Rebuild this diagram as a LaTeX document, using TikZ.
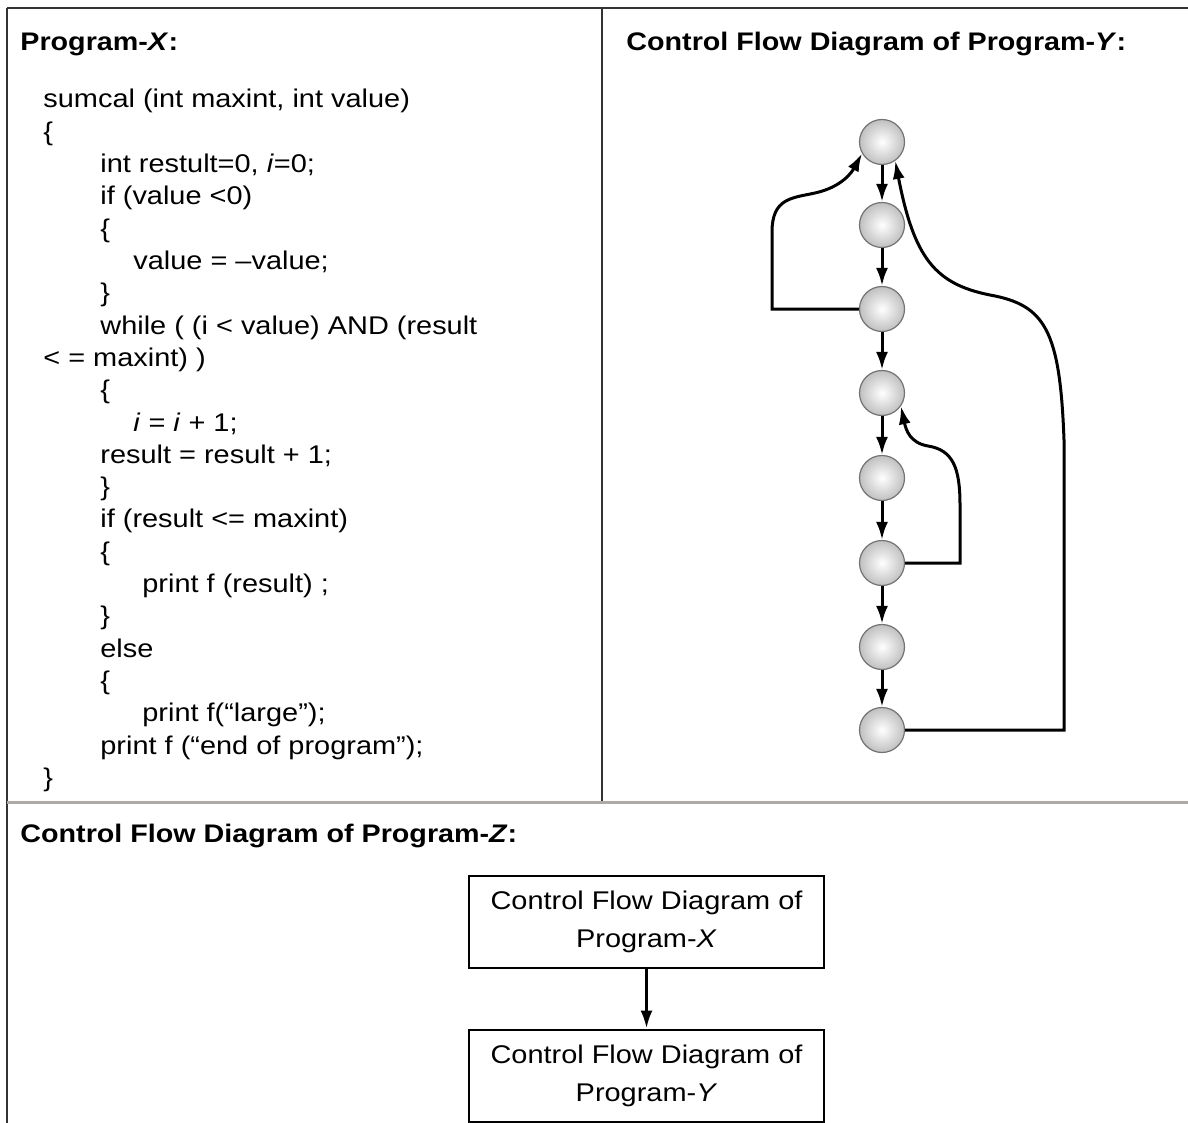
\documentclass[tikz,border=0pt]{standalone}
\usepackage{fontspec}
\setmainfont{Liberation Sans}[FakeStretch=1.13]
\usetikzlibrary{arrows.meta}
\definecolor{rulegray}{RGB}{176,170,166}
\definecolor{ballgray}{RGB}{192,192,192}

\begin{document}
\begin{tikzpicture}[x=0.5pt, y=-0.5pt,
  panel/.style={line width=1pt, black!80},
  code/.style={anchor=base west, inner sep=0pt, font=\fontsize{12.8}{16}\selectfont},
  head/.style={anchor=base west, inner sep=0pt, font=\bfseries\fontsize{12.7}{16}\selectfont},
  vertex/.style={circle, draw=gray!90!black, line width=0.6pt, minimum size=22.5pt, inner sep=0pt,
    inner color=white, outer color=ballgray},
  flow/.style={line width=1.5pt, -{Latex[length=9pt,width=6pt]}},
  back/.style={line width=1.5pt, -{Latex[length=9pt,width=6pt]}},
  cfdbox/.style={draw, line width=1pt, minimum width=177.5pt, minimum height=46pt,
    align=center, font=\fontsize{12.8}{19}\selectfont}]
  \useasboundingbox (0,0) rectangle (1188,1123);

  % table rules
  \draw[panel] (7,8) -- (1188,8);
  \draw[panel] (7,8) -- (7,1123);
  \draw[panel] (602,8) -- (602,802);
  \draw[rulegray, line width=1.5pt] (7,802) -- (1188,802);

  % headings
  \node[head] (hx) at (20,51) {Program-\textit{X}:};
  \node[head] (hy) at (626,51) {Control Flow Diagram of Program-\textit{Y}:};
  \node[head] (hz) at (20,842) {Control Flow Diagram of Program-\textit{Z}:};

  % program X, one node per line
  \foreach \x/\t [count=\k from 0] in {
      43/{sumcal (int maxint, int value)},
      43/{\{},
      100/{int restult=0, \textit{i}=0;},
      100/{if (value <0)},
      100/{\{},
      133/{value = –value;},
      100/{\}},
      100/{while ( (i < value) AND (result},
      43/{< = maxint) )},
      100/{\{},
      133/{\textit{i} = \textit{i} + 1;},
      100/{result = result + 1;},
      100/{\}},
      100/{if (result <= maxint)},
      100/{\{},
      142/{print f (result) ;},
      100/{\}},
      100/{else},
      100/{\{},
      142/{print f(“large”);},
      100/{print f (“end of program”);},
      43/{\}}} {
    \node[code] (l\k) at (\x,{108+32.3*\k}) {\t};
  }

  % control flow graph of program Y
  \foreach \i/\y in {1/142, 2/225, 3/309, 4/393, 5/478, 6/563, 7/647, 8/730} {
    \node[vertex] (n\i) at (882,\y) {};
  }
  \foreach \i [count=\j from 2] in {1,...,7} {
    \draw[flow] (n\i) -- (n\j);
  }
  % loops back
  \draw[back] (n3.west) -- (772,309) -- (772,232)
    .. controls (772,198) and (792,198) .. (815,193)
    .. controls (842,187) and (852,172) .. (n1.210);
  \draw[back] (n6.east) -- (960,563) -- (960,505)
    .. controls (960,468) and (953,450) .. (928,446)
    .. controls (910,443) and (906,430) .. (n4.-35);
  \draw[back] (n8.east) -- (1064,730) -- (1064,440)
    .. controls (1060,330) and (1045,305) .. (990,295)
    .. controls (935,284) and (914,258) .. (n1.-55);

  % program Z
  \node[cfdbox] (bx) at (646.5,922) {Control Flow Diagram of\\Program-\textit{X}};
  \node[cfdbox] (by) at (646.5,1075.5) {Control Flow Diagram of\\Program-\textit{Y}};
  \draw[flow] (bx) -- (by);
\end{tikzpicture}
\end{document}
